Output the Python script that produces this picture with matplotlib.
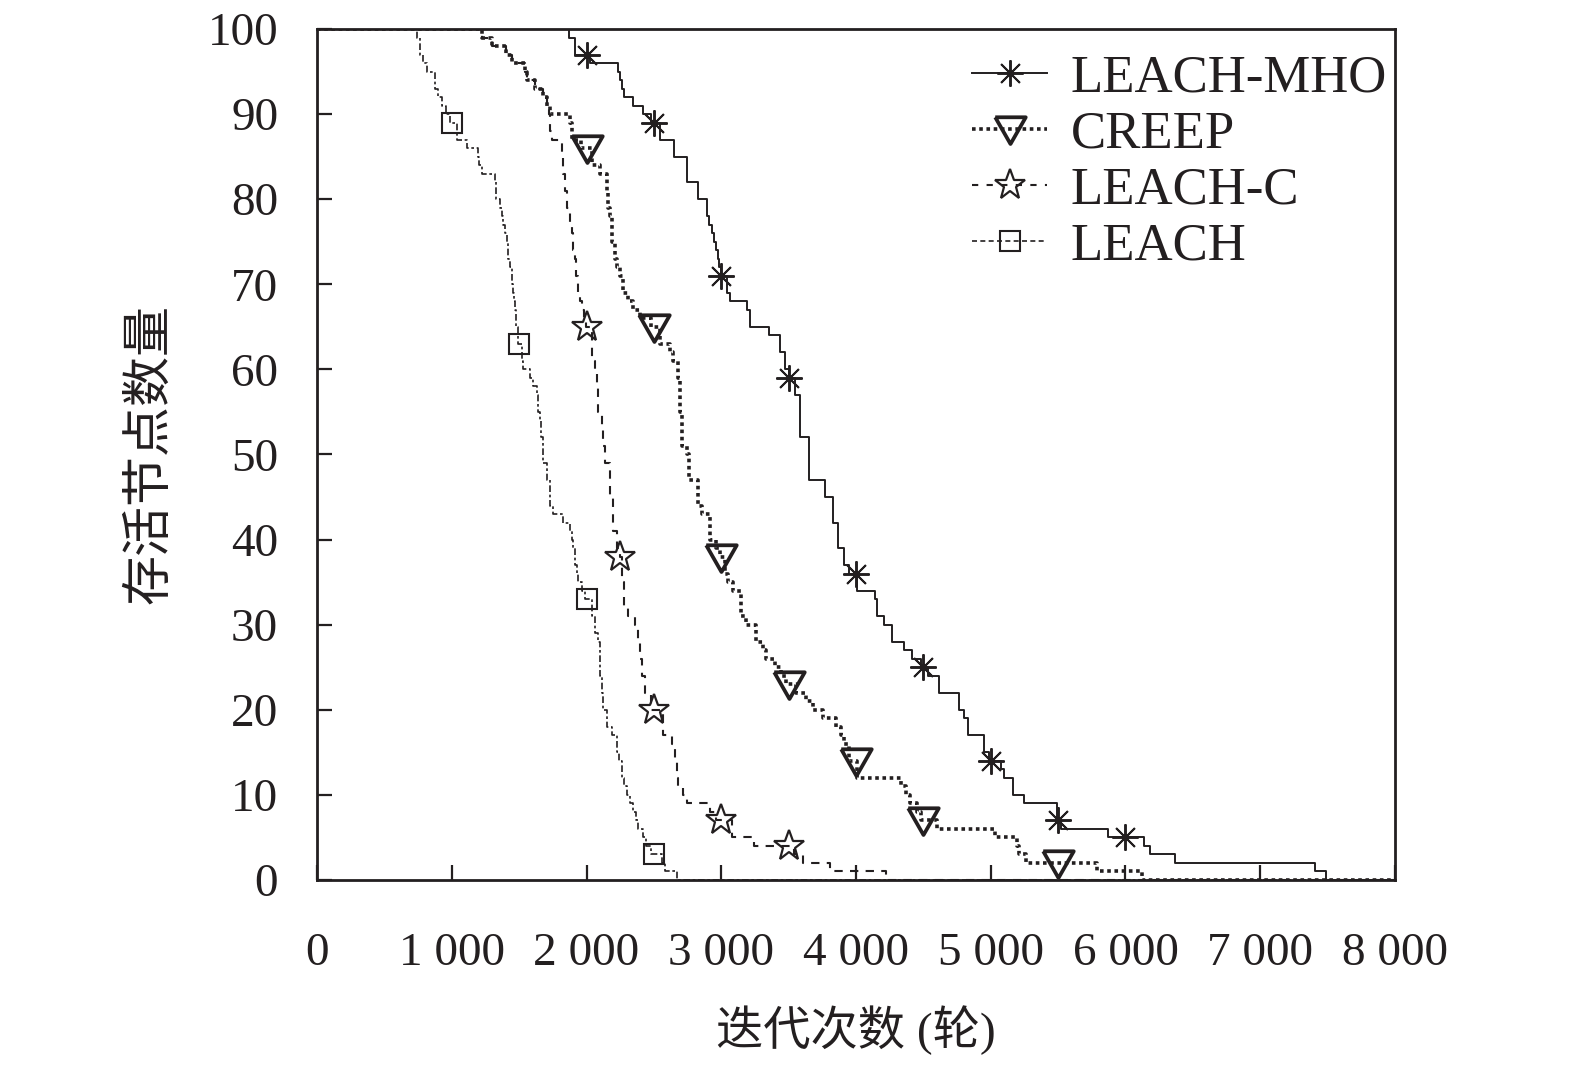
import numpy as np
import matplotlib
matplotlib.use("Agg")
import matplotlib.pyplot as plt
from matplotlib.lines import Line2D

plt.rcParams['font.family'] = ['Liberation Serif', 'Noto Sans CJK SC']

# step breakpoints (round, alive nodes)
mho_x = [0, 1868, 1915, 2028, 2237, 2250, 2262, 2275, 2347, 2421, 2480, 2547, 2646, 2743,
         2829, 2894, 2910, 2930, 2945, 2960, 2975, 2985, 2998, 3040, 3066, 3190, 3215, 3352,
         3437, 3470, 3500, 3544, 3581, 3650, 3770, 3830, 3865, 3910, 3950, 4007, 4139, 4155,
         4205, 4270, 4353, 4419, 4480, 4535, 4617, 4766, 4799, 4832, 4947, 4990, 5079, 5096,
         5162, 5244, 5492, 5518, 5871, 6135, 6185, 6366, 7406, 7488, 8000]
mho_y = [100, 99, 97, 96, 95, 94, 93, 92, 91, 90, 89, 87, 85, 82,
         80, 78, 77, 76, 75, 74, 73, 72, 71, 69, 68, 67, 65, 64,
         62, 60, 59, 57, 52, 47, 45, 42, 39, 37, 36, 34, 33, 31,
         30, 28, 27, 26, 25, 24, 22, 20, 19, 17, 15, 14, 13, 12,
         10, 9, 7, 6, 5, 4, 3, 2, 1, 0, 0]

creep_x = [0, 1222, 1300, 1400, 1445, 1544, 1560, 1618, 1680, 1705, 1729, 1880, 1890, 1960,
           2039, 2100, 2150, 2160, 2174, 2187, 2211, 2224, 2248, 2273, 2310, 2347, 2397, 2480,
           2545, 2620, 2644, 2681, 2695, 2710, 2743, 2760, 2830, 2860, 2915, 2964, 2990, 3026,
           3051, 3088, 3149, 3186, 3260, 3310, 3334, 3396, 3440, 3480, 3556, 3630, 3679, 3753,
           3810, 3852, 3890, 3908, 3950, 4007, 4337, 4370, 4403, 4452, 4480, 4601, 5030, 5195,
           5210, 5261, 5789, 6119, 8000]
creep_y = [100, 99, 98, 97, 96, 95, 94, 93, 92, 91, 90, 89, 87, 86,
           84, 83, 81, 79, 78, 75, 73, 72, 71, 69, 68, 67, 66, 65,
           63, 62, 61, 59, 55, 51, 50, 47, 44, 43, 40, 39, 38, 36,
           35, 34, 31, 30, 28, 27, 26, 25, 24, 23, 22, 21, 20, 19,
           19, 18, 17, 16, 14, 12, 11, 10, 9, 8, 7, 6, 5, 4,
           3, 2, 1, 0, 0]

leachc_x = [0, 1222, 1300, 1400, 1445, 1544, 1560, 1618, 1680, 1705, 1720, 1729, 1742, 1816,
            1826, 1840, 1855, 1877, 1890, 1900, 1915, 1925, 1939, 1950, 1964, 1980, 1995, 2039,
            2063, 2075, 2087, 2113, 2125, 2137, 2174, 2199, 2225, 2248, 2261, 2275, 2309, 2360,
            2384, 2395, 2409, 2434, 2480, 2570, 2632, 2657, 2670, 2681, 2718, 2743, 2916, 2960,
            3077, 3240, 3540, 3607, 3807, 4220, 8000]
leachc_y = [100, 99, 98, 97, 96, 95, 94, 93, 92, 91, 90, 88, 87, 85,
            83, 81, 79, 77, 76, 74, 73, 71, 69, 68, 67, 66, 65, 61,
            60, 58, 55, 53, 51, 49, 45, 41, 39, 38, 35, 32, 31, 30,
            28, 26, 24, 22, 20, 17, 16, 14, 12, 11, 10, 9, 8, 7,
            5, 4, 3, 2, 1, 0, 0]

leach_x = [0, 745, 764, 789, 813, 875, 899, 925, 960, 990, 1037, 1111, 1195, 1205,
           1222, 1321, 1330, 1358, 1370, 1383, 1395, 1408, 1420, 1432, 1445, 1457, 1465, 1469,
           1480, 1495, 1519, 1530, 1581, 1606, 1630, 1640, 1655, 1665, 1680, 1705, 1729, 1754,
           1828, 1877, 1890, 1902, 1915, 1927, 1940, 1970, 1990, 2039, 2060, 2087, 2100, 2113,
           2125, 2150, 2187, 2224, 2240, 2261, 2280, 2298, 2320, 2347, 2365, 2384, 2421, 2440,
           2480, 2560, 2582, 2669, 8000]
leach_y = [100, 99, 97, 96, 95, 93, 92, 91, 90, 89, 87, 86, 85, 84,
           83, 82, 80, 79, 78, 77, 76, 75, 73, 72, 70, 69, 68, 67,
           65, 63, 61, 60, 59, 58, 57, 55, 54, 52, 49, 47, 44, 43,
           42, 41, 40, 39, 37, 36, 35, 34, 33, 31, 29, 28, 24, 22,
           20, 18, 17, 15, 14, 12, 11, 10, 9, 8, 7, 6, 5, 4,
           3, 2, 1, 0, 0]

# rounds where the markers sit
mho_mk = [2000, 2500, 3000, 3500, 4000, 4500, 5000, 5500, 6000]
creep_mk = [2000, 2500, 3000, 3500, 4000, 4500, 5500]
leachc_mk = [2000, 2250, 2500, 3000, 3500]
leach_mk = [1000, 1500, 2000, 2500]

labels = ['LEACH-MHO', 'CREEP', 'LEACH-C', 'LEACH']
x_ticks = [0, 1000, 2000, 3000, 4000, 5000, 6000, 7000, 8000]
x_ticklabels = ['0', '1 000', '2 000', '3 000', '4 000', '5 000', '6 000', '7 000', '8 000']
y_ticks = [0, 10, 20, 30, 40, 50, 60, 70, 80, 90, 100]


def step_at(xs, ys, pts):
    idx = np.searchsorted(xs, pts, side='right') - 1
    return np.asarray(ys)[idx]


fig = plt.figure(figsize=(15.75, 10.66), dpi=100)
ax = fig.add_axes([0.2013, 0.1745, 0.6844, 0.7983])

ink = '#231f20'
tri = [(-1.0, 0.8), (1.0, 0.8), (0.0, -0.95), (-1.0, 0.8)]
styles = [
    dict(ls='-', lw=1.4, marker=(8, 2, 0), ms=19, mew=1.4),
    dict(ls=(0, (1, 1)), lw=2.6, marker=tri, ms=22, mew=2.7),
    dict(ls=(0, (4, 3.5)), lw=1.5, marker='*', ms=23, mew=1.6),
    dict(ls=(0, (4, 1.6, 1.6, 1.6)), lw=1.2, marker='s', ms=14, mew=1.5),
]
legend_ls = ['-', (0, (1, 1)), (0, (3, 4)), (0, (3, 2))]
series = [(mho_x, mho_y, mho_mk), (creep_x, creep_y, creep_mk),
          (leachc_x, leachc_y, leachc_mk), (leach_x, leach_y, leach_mk)]

handles = []
for (xs, ys, mk), st, lab, lls in zip(series, styles, labels, legend_ls):
    ax.plot(xs, ys, drawstyle='steps-post', color=ink, ls=st['ls'], lw=st['lw'])
    ax.plot(mk, step_at(xs, ys, mk), ls='none', marker=st['marker'], ms=st['ms'],
            mew=st['mew'], mec=ink, mfc='none')
    handles.append(Line2D([], [], color=ink, ls=lls, lw=st['lw'],
                          marker=st['marker'], ms=st['ms'], mew=st['mew'],
                          mec=ink, mfc='none', label=lab))

ax.set_xlim(0, 8000)
ax.set_ylim(0, 100)
ax.set_xticks(x_ticks)
ax.set_xticklabels(x_ticklabels)
ax.set_yticks(y_ticks)
ax.tick_params(direction='in', length=11, width=1.6, labelsize=34, pad=28, colors=ink)
ax.tick_params(axis='x', pad=38)
for s in ax.spines.values():
    s.set_linewidth(2.0)
    s.set_color(ink)

ax.set_xlabel('迭代次数 (轮)', fontsize=34, color=ink, labelpad=22)
ax.set_ylabel('存活节点数量', fontsize=36, color=ink, labelpad=24)

leg = ax.legend(handles=handles, loc='upper right', fontsize=38, frameon=False,
                handlelength=1.42, handletextpad=0.44, labelspacing=0.15,
                borderaxespad=0.0, bbox_to_anchor=(1.012, 0.995))
for t in leg.get_texts():
    t.set_color(ink)

fig.savefig('out.png', dpi=100)
